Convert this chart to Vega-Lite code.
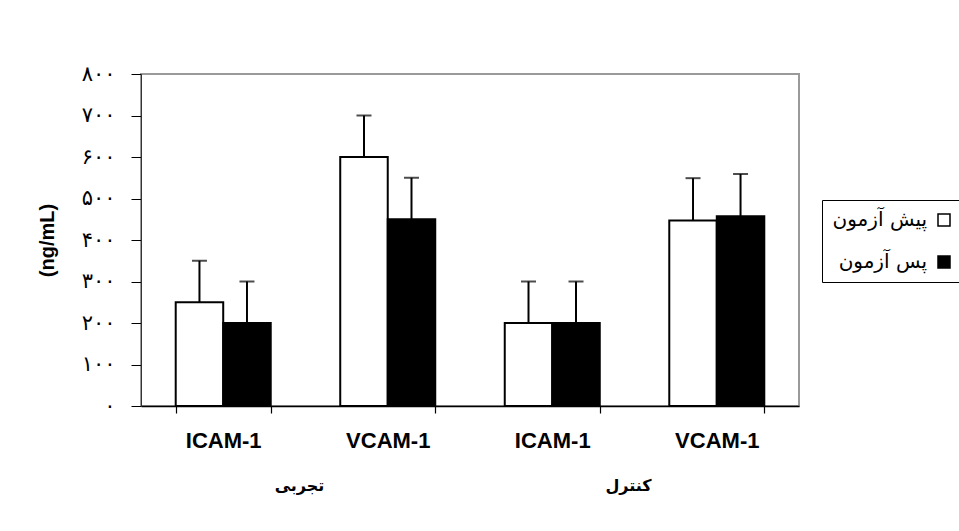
{
  "$schema": "https://vega.github.io/schema/vega-lite/v6.json",
  "width": 658,
  "height": 332,
  "autosize": {"type": "none"},
  "padding": {"left": 141, "top": 74, "right": 160, "bottom": 125},
  "background": "white",
  "config": {
    "font": "Liberation Sans, DejaVu Sans",
    "view": {"stroke": "#9a9a9a", "strokeWidth": 2}
  },
  "layer": [
    {
      "data": {
        "values": [
          {"band": "تجربی|ICAM-1", "test": "پیش آزمون", "value": 250, "upper": 350},
          {"band": "تجربی|ICAM-1", "test": "پس آزمون", "value": 200, "upper": 300},
          {"band": "تجربی|VCAM-1", "test": "پیش آزمون", "value": 600, "upper": 700},
          {"band": "تجربی|VCAM-1", "test": "پس آزمون", "value": 450, "upper": 550},
          {"band": "کنترل|ICAM-1", "test": "پیش آزمون", "value": 200, "upper": 300},
          {"band": "کنترل|ICAM-1", "test": "پس آزمون", "value": 200, "upper": 300},
          {"band": "کنترل|VCAM-1", "test": "پیش آزمون", "value": 447, "upper": 549},
          {"band": "کنترل|VCAM-1", "test": "پس آزمون", "value": 457, "upper": 559}
        ]
      },
      "encoding": {
        "x": {
          "field": "band",
          "type": "nominal",
          "sort": null,
          "scale": {"paddingInner": 0.4225, "paddingOuter": 0.211},
          "axis": {
            "title": null,
            "labelExpr": "split(datum.value, '|')[1]",
            "labelAngle": 0,
            "labelFont": "Liberation Sans",
            "labelFontSize": 22,
            "labelFontWeight": "bold",
            "labelColor": "black",
            "labelPadding": 17,
            "tickBand": "extent",
            "tickSize": 7,
            "tickColor": "black",
            "domainColor": "black",
            "domainWidth": 1.5,
            "tickWidth": 1.2
          }
        },
        "xOffset": {
          "field": "test",
          "type": "nominal",
          "scale": {"domain": ["پیش آزمون", "پس آزمون"], "paddingInner": 0, "paddingOuter": 0}
        }
      },
      "layer": [
        {
          "mark": {"type": "bar", "stroke": "black", "strokeWidth": 2},
          "encoding": {
            "y": {
              "field": "value",
              "type": "quantitative",
              "scale": {"domain": [0, 800], "nice": false},
              "axis": {
                "title": "(ng/mL)",
                "titleFont": "Liberation Sans",
                "titleFontSize": 20,
                "titleFontWeight": "bold",
                "titleColor": "black",
                "titlePadding": 24,
                "values": [0, 100, 200, 300, 400, 500, 600, 700, 800],
                "labelExpr": "['۰','۱۰۰','۲۰۰','۳۰۰','۴۰۰','۵۰۰','۶۰۰','۷۰۰','۸۰۰'][round(datum.value/100)]",
                "labelFont": "DejaVu Sans",
                "labelFontSize": 21,
                "labelColor": "black",
                "labelPadding": 16,
                "tickSize": 10,
                "tickColor": "black",
                "domainColor": "#333333",
                "grid": false
              }
            },
            "fill": {
              "field": "test",
              "type": "nominal",
              "scale": {"domain": ["پیش آزمون", "پس آزمون"], "range": ["white", "black"]},
              "legend": {
                "title": null,
                "orient": "none",
                "legendX": 681,
                "legendY": 126,
                "strokeColor": "black",
                "padding": 10,
                "symbolType": "square",
                "symbolSize": 144,
                "symbolStrokeColor": "black",
                "symbolStrokeWidth": 1.5,
                "labelAlign": "right",
                "labelOffset": -27,
                "symbolOffset": 102,
                "labelFont": "DejaVu Sans",
                "labelFontSize": 20,
                "labelColor": "black",
                "rowPadding": 22
              }
            }
          }
        },
        {
          "mark": {"type": "rule", "stroke": "black", "strokeWidth": 2},
          "encoding": {
            "y": {"field": "value", "type": "quantitative"},
            "y2": {"field": "upper"}
          }
        },
        {
          "mark": {"type": "tick", "color": "black", "size": 15, "thickness": 2},
          "encoding": {
            "y": {"field": "upper", "type": "quantitative"}
          }
        }
      ]
    },
    {
      "data": {
        "values": [
          {"group": "تجربی", "pos": -192},
          {"group": "کنترل", "pos": -192}
        ]
      },
      "mark": {"type": "text", "font": "DejaVu Sans", "fontSize": 16, "fontWeight": "bold", "color": "black", "dx": -6},
      "encoding": {
        "x": {"field": "group", "type": "nominal", "sort": null, "axis": null},
        "y": {"field": "pos", "type": "quantitative"},
        "text": {"field": "group"}
      }
    }
  ],
  "resolve": {"scale": {"x": "independent"}}
}
